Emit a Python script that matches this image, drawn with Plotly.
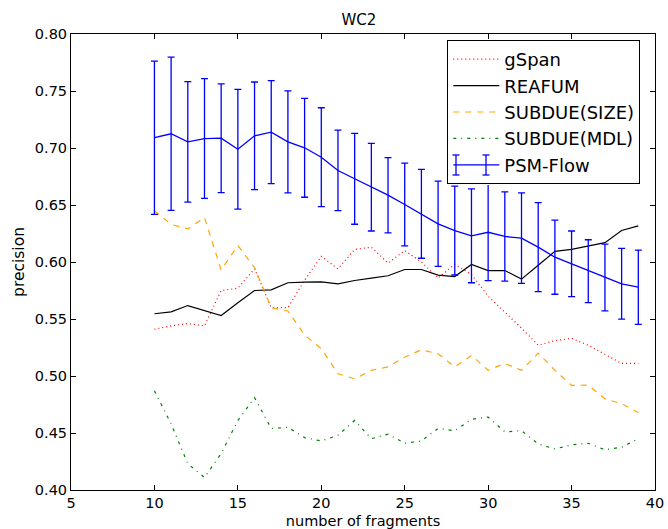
import plotly.graph_objects as go

x_vals = list(range(10, 40))

gspan = [0.541, 0.544, 0.546, 0.544, 0.575, 0.577, 0.594, 0.560, 0.560, 0.584,
         0.605, 0.594, 0.611, 0.613, 0.599, 0.610, 0.600, 0.586, 0.598, 0.589,
         0.570, 0.556, 0.542, 0.527, 0.531, 0.533, 0.527, 0.519, 0.511, 0.511]

reafum = [0.5546, 0.5563, 0.5618, 0.5575, 0.5531, 0.5642, 0.5750, 0.5756, 0.5818, 0.5823,
          0.5826, 0.5809, 0.5838, 0.5858, 0.5879, 0.5934, 0.5934, 0.5885, 0.5872, 0.5978,
          0.5925, 0.5925, 0.5850, 0.5972, 0.6093, 0.6110, 0.6140, 0.6170, 0.6276, 0.6317]

subdue_size = [0.645, 0.633, 0.629, 0.639, 0.593, 0.6145, 0.595, 0.560, 0.557, 0.536,
               0.524, 0.502, 0.4975, 0.505, 0.508, 0.5165, 0.523, 0.5195, 0.508, 0.518,
               0.505, 0.511, 0.505, 0.520, 0.505, 0.4917, 0.492, 0.480, 0.4756, 0.468]

subdue_mdl = [0.487, 0.458, 0.423, 0.411, 0.432, 0.461, 0.481, 0.454, 0.455, 0.446,
              0.443, 0.448, 0.461, 0.445, 0.449, 0.441, 0.443, 0.454, 0.452, 0.462,
              0.464, 0.451, 0.452, 0.4405, 0.436, 0.4396, 0.441, 0.4353, 0.4375, 0.445]

psm_flow = [0.709, 0.7125, 0.7054, 0.7083, 0.7086, 0.6989, 0.7107, 0.7139, 0.7054, 0.7002,
            0.6919, 0.6803, 0.673, 0.6656, 0.6586, 0.6504, 0.6423, 0.6335, 0.6276, 0.623,
            0.6261, 0.6224, 0.6209, 0.613, 0.6042, 0.5984, 0.5919, 0.5864, 0.5809, 0.5779]

psm_err = [0.0672, 0.0673, 0.0529, 0.0525, 0.0477, 0.0526, 0.0472, 0.0452, 0.0447, 0.0434,
           0.0434, 0.0353, 0.0399, 0.0384, 0.0330, 0.0363, 0.0390, 0.0374, 0.0390, 0.0412,
           0.0424, 0.0392, 0.0397, 0.0390, 0.0325, 0.0288, 0.0276, 0.0293, 0.0310, 0.0326]

x_ticks = [5, 10, 15, 20, 25, 30, 35, 40]
y_ticks = [0.40, 0.45, 0.50, 0.55, 0.60, 0.65, 0.70, 0.75, 0.80]

FONT = "DejaVu Sans"
W, H = 668, 529
ML, MR, MT, MB = 71, 13, 34, 39

fig = go.Figure()
fig.add_trace(go.Scatter(x=x_vals, y=gspan, mode="lines", name="gSpan",
                         legendgroup="a",
                         line=dict(color="#ff0000", width=1.2, dash="1px,3px")))
fig.add_trace(go.Scatter(x=x_vals, y=reafum, mode="lines", name="REAFUM",
                         legendgroup="b",
                         line=dict(color="#000000", width=1.2)))
fig.add_trace(go.Scatter(x=x_vals, y=subdue_size, mode="lines", name="SUBDUE(SIZE)",
                         legendgroup="c",
                         line=dict(color="#ffa500", width=1.2, dash="6px,6px")))
fig.add_trace(go.Scatter(x=x_vals, y=subdue_mdl, mode="lines", name="SUBDUE(MDL)",
                         legendgroup="d",
                         line=dict(color="#008000", width=1.2, dash="3px,5px,1px,5px")))
fig.add_trace(go.Scatter(x=x_vals, y=psm_flow, mode="lines", name="PSM-Flow",
                         legendgroup="e",
                         line=dict(color="#0000ff", width=1.3),
                         error_y=dict(type="data", array=psm_err, visible=True,
                                      color="#0000ff", thickness=1.3, width=3.5)))

axis_common = dict(showline=True, linecolor="black", linewidth=1, mirror="ticks",
                   ticks="inside", ticklen=5, tickwidth=1, tickcolor="black",
                   showgrid=False, zeroline=False, automargin=False,
                   tickfont=dict(family=FONT, size=14.5, color="black"))


def px_to_paper(px, py):
    return (px - ML) / (W - ML - MR), 1 - (py - MT) / (H - MT - MB)


# legend box geometry (pixels)
LEG_L, LEG_T = 447.3, 40.0
LEG_R, LEG_B = 641.0, 186.0
PSM_ROW_Y = 165.0

shapes = []
# opaque white backing for the legend (legend itself is transparent so the key icon shows)
bx0, by0 = px_to_paper(LEG_L + 1, LEG_T + 1)
bx1, by1 = px_to_paper(LEG_R - 1, LEG_B - 1)
shapes.append(dict(type="rect", xref="paper", yref="paper", layer="above",
                   x0=bx0, x1=bx1, y0=by1, y1=by0,
                   fillcolor="white", line=dict(width=0)))
# error-bar style legend key for PSM-Flow
for cx in (456, 486):
    x0, y0 = px_to_paper(cx, PSM_ROW_Y - 10)
    _, y1 = px_to_paper(cx, PSM_ROW_Y + 10)
    shapes.append(dict(type="line", xref="paper", yref="paper", layer="above",
                       x0=x0, x1=x0, y0=y0, y1=y1,
                       line=dict(color="#0000ff", width=1.3)))
    for cy in (PSM_ROW_Y - 10, PSM_ROW_Y + 10):
        xa, ya = px_to_paper(cx - 3.5, cy)
        xb, _ = px_to_paper(cx + 3.5, cy)
        shapes.append(dict(type="line", xref="paper", yref="paper", layer="above",
                           x0=xa, x1=xb, y0=ya, y1=ya,
                           line=dict(color="#0000ff", width=1.3)))

lx, ly = px_to_paper(LEG_L, LEG_T)

fig.update_layout(
    width=W, height=H,
    margin=dict(l=ML, r=MR, t=MT, b=MB, autoexpand=False),
    paper_bgcolor="white", plot_bgcolor="white",
    font=dict(family=FONT, color="black"),
    title=dict(text="WC2", x=0.493, xref="paper", y=1 - 20 / H, yref="container",
               xanchor="center", yanchor="middle", automargin=False,
               font=dict(family=FONT, size=15, color="black")),
    xaxis=dict(range=[5, 40], tickvals=x_ticks, ticktext=[str(v) for v in x_ticks],
               title=dict(text="number of fragments", standoff=7,
                          font=dict(family=FONT, size=14.5, color="black")),
               **axis_common),
    yaxis=dict(range=[0.40, 0.80], tickvals=y_ticks,
               ticktext=["%.2f" % v for v in y_ticks],
               title=dict(text="precision", standoff=6,
                          font=dict(family=FONT, size=15.5, color="black")),
               **axis_common),
    showlegend=True,
    legend=dict(x=lx, y=ly, xanchor="left", yanchor="top",
                bgcolor="rgba(0,0,0,0)", bordercolor="black", borderwidth=1,
                font=dict(family=FONT, size=18, color="black"),
                traceorder="normal", tracegroupgap=0, itemwidth=46),
    shapes=shapes,
)

fig.write_html("out.html", config={"displayModeBar": False},
               post_script="document.body.style.margin='0';")
